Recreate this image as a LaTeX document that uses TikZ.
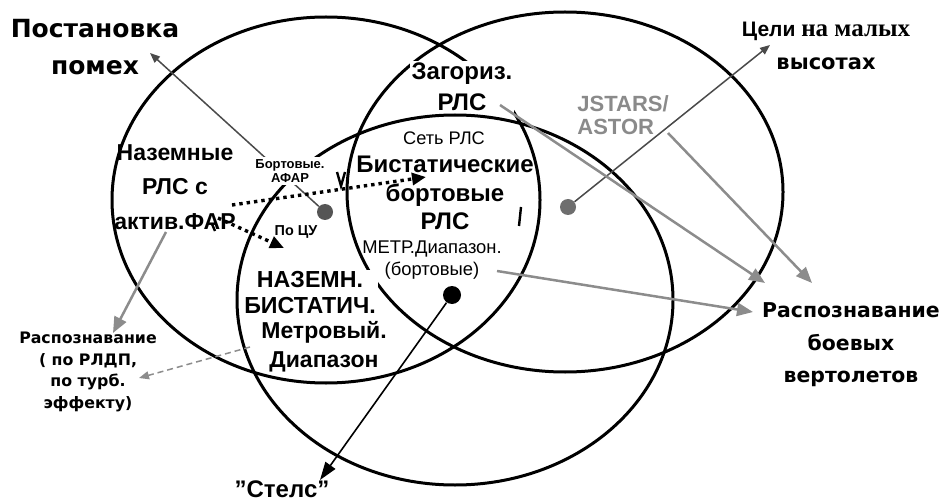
\documentclass[tikz,border=0pt]{standalone}
\usepackage{fontspec}
\setmainfont{Liberation Sans}
\newfontfamily\widefont{DejaVu Sans}
\newfontfamily\serifface{Liberation Serif}
\usepackage{tikz}
\usetikzlibrary{
  arrows.meta,
  positioning,
  backgrounds
}
\definecolor{DotGrey}{HTML}{555555}
\definecolor{DarkLine}{HTML}{4A4A4A}
\definecolor{LineGrey}{HTML}{8C8C8C}
\definecolor{TextGrey}{HTML}{8A8A8A}
\tikzset{
  % Region outline
  ring/.style={draw=black, line width=1.5pt},
  % Text label
  lbl/.style={align=center, inner sep=1pt},
  % White patch behind a label
  cover/.style={fill=white},
  % Marker dot
  dot/.style={circle, fill=#1, inner sep=0pt, minimum size=8pt},
  % Thick grey arrow
  arr/.style={
    -{Triangle[length=8pt,width=6.5pt]},
    line width=1.25pt, color=#1
  },
  % Thin arrow
  fine/.style={
    -{Triangle[length=5pt,width=4pt]},
    line width=0.75pt, color=#1
  },
  % Dotted arrow
  dotarr/.style={
    -{Triangle[length=7pt,width=6pt]},
    line width=1.7pt, dash pattern=on 1.7pt off 2pt
  },
  % Stray pen mark
  scrap/.style={line width=1.2pt}
}
\begin{document}
\begin{tikzpicture}[x=0.5pt, y=-0.5pt]
  \useasboundingbox (0,0) rectangle (941,502);

  % Outside labels
  \node[lbl, font=\widefont\bfseries\fontsize{12.5}{18.5}\selectfont] (pomekh) at (95,47) {Постановка\\помех};
  \node[lbl, font=\bfseries\fontsize{10.5}{16.5}\selectfont] (celi) at (826,46)
    {Цели {\serifface\fontsize{12.5}{16.5}\selectfont на малых}\\{\widefont высотах}};
  \node[lbl, font=\widefont\bfseries\fontsize{7.9}{10.8}\selectfont] (raspL) at (88,372)
    {Распознавание\\( по РЛДП,\\по турб.\\эффекту)};
  \node[lbl, font=\widefont\bfseries\fontsize{10.2}{16.3}\selectfont] (raspR) at (851,345)
    {Распознавание\\боевых\\вертолетов};
  \node[lbl, font=\bfseries\fontsize{12}{14}\selectfont] (stels) at (282,489) {\symbol{34}Стелс\symbol{34}};

  % Inside labels
  \node[lbl, font=\bfseries\fontsize{11.5}{17.3}\selectfont] (nazem) at (175,187) {Наземные\\РЛС с\\актив.ФАР};
  \node[lbl, cover, font=\bfseries\fontsize{6.5}{7}\selectfont] (bortafar) at (290,171) {Бортовые.\\АФАР};
  \node[lbl, font=\bfseries\fontsize{7.2}{8}\selectfont] (pocu) at (296,232) {По ЦУ};
  \node[lbl, cover, font=\bfseries\fontsize{12}{15.5}\selectfont] (zagor) at (462,87) {Загориз.\\РЛС};
  \node[lbl, align=left, anchor=west, text=TextGrey, font=\bfseries\fontsize{11}{11.5}\selectfont] (jstars) at (575,115) {JSTARS/\\ASTOR};
  \node[lbl, font=\fontsize{9.1}{10}\selectfont] (set) at (444,138) {Сеть РЛС};
  \node[lbl, font=\bfseries\fontsize{12}{14.3}\selectfont] (bist) at (445,193) {Бистатические\\бортовые\\РЛС};
  \node[lbl, font=\fontsize{9.2}{11}\selectfont] (metr) at (432,260) {МЕТР.Диапазон.\\(бортовые)};
  \node[lbl, cover, font=\bfseries\fontsize{11.6}{13}\selectfont] (nazbis) at (310,293) {НАЗЕМН.\\БИСТАТИЧ.};
  \node[lbl, font=\bfseries\fontsize{11.5}{14.5}\selectfont] (metrov) at (324,347) {Метровый.\\Диапазон};

  % Dots
  \node[dot=DotGrey] (jam) at (325,212) {};
  \node[dot=DotGrey!85] (low) at (568,207) {};
  \node[dot=black, minimum size=9pt] (stealth) at (452,295) {};

  % Arrow ends
  \coordinate (pomekhTip) at (150,53);
  \coordinate (celiTip) at (770,45);
  \coordinate (stelsTip) at (320,480);
  \coordinate (rlsOut) at (500,105);
  \coordinate (heliA) at (765,283);
  \coordinate (jsOut) at (668,133);
  \coordinate (heliB) at (812,283);
  \coordinate (bortOut) at (497,271);
  \coordinate (heliC) at (753,312);
  \coordinate (farOut) at (166,232);
  \coordinate (rldpTip) at (113,333);
  \coordinate (metrOut) at (250,347);
  \coordinate (turbTip) at (139,378);
  \coordinate (farA) at (232,205);
  \coordinate (netTip) at (426,177);
  \coordinate (farB) at (218,218);
  \coordinate (cuTip) at (284,248);

  % Arrows
  \draw[fine=DarkLine] (low) -- (celiTip);
  \draw[-{Triangle[length=9pt,width=6pt]}, line width=0.8pt] (stealth) -- (stelsTip);
  \draw[arr=LineGrey] (rlsOut) -- (heliA);
  \draw[arr=LineGrey] (jsOut) -- (heliB);
  \draw[arr=LineGrey] (bortOut) -- (heliC);
  \draw[arr=LineGrey] (farOut) -- (rldpTip);
  \draw[fine=LineGrey, dash pattern=on 3pt off 2pt] (metrOut) -- (turbTip);
  \draw[dotarr] (farA) -- (netTip);
  \draw[dotarr] (farB) -- (cuTip);

  % Stray marks
  \draw[scrap] (337,172) -- (341,186) -- (345,172);
  \draw[scrap] (521,207) -- (519,226);
  \draw[scrap] (212,224) -- (215,231);

  \begin{scope}[on background layer]
    \draw[ring] (326,200) ellipse [x radius=107pt, y radius=91.5pt];
    \draw[ring] (565,192) ellipse [x radius=109pt, y radius=90pt];
    \draw[ring] (455,300) ellipse [x radius=109pt, y radius=92.5pt];
    \draw[fine=DarkLine] (jam) -- (pomekhTip);
  \end{scope}

\end{tikzpicture}
\end{document}
